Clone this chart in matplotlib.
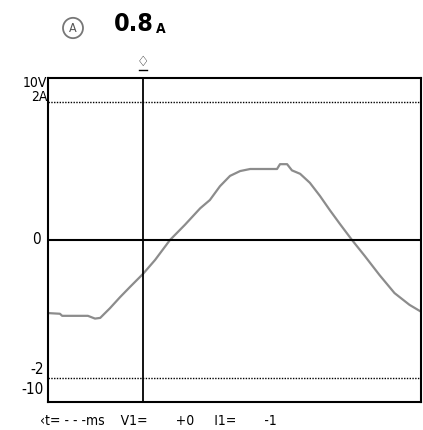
import matplotlib
matplotlib.use("Agg")
import matplotlib.pyplot as plt
from matplotlib.patches import Circle

# --- trace values (time in % of screen, current in A)
t_pct = [0, 3.2, 3.8, 7.2, 10.7, 12.6, 14.0, 16.6, 19.3, 22.0, 25.5, 28.7,
         32.7, 36.7, 40.8, 43.4, 46.1, 48.8, 51.5, 54.2, 61.4, 62.2, 64.1,
         65.4, 67.6, 70.2, 72.9, 75.6, 78.3, 81.5, 84.9, 88.9, 92.9, 96.9, 100]
amps = [-1.06, -1.07, -1.10, -1.10, -1.10, -1.14, -1.13, -0.99, -0.83, -0.68,
        -0.49, -0.29, 0.0, 0.22, 0.46, 0.58, 0.78, 0.93, 1.0, 1.03, 1.03,
        1.10, 1.10, 1.01, 0.96, 0.83, 0.64, 0.43, 0.23, 0.0, -0.23, -0.51,
        -0.77, -0.94, -1.04]

cursor_t = 25.5
grid_levels = [2, -2]
reading = "0.8"
footer = "\u2039t= - - -ms    V1=       +0     I1=       -1"

W, H = 423, 430
font = "DejaVu Sans"

def fx(px):
    return px / W

def fy(py):
    return 1 - py / H

def label(px, py, s, **kw):
    kw.setdefault("fontsize", 11)
    kw.setdefault("family", font)
    kw.setdefault("fontstretch", "condensed")
    fig.text(fx(px), fy(py), s, **kw)

fig = plt.figure(figsize=(W / 100, H / 100), dpi=100)
ax = fig.add_axes([fx(48), fy(402), fx(421) - fx(48), fy(78) - fy(402)])

ax.plot(t_pct, amps, color="#8c8c8c", lw=1.6)
ax.axhline(0, color="black", lw=1.5)
for g in grid_levels:
    ax.axhline(g, color="black", lw=1.0, ls=(0, (1, 1)))
ax.axvline(cursor_t, color="black", lw=1.3)

ax.set_xlim(0, 100)
ax.set_ylim(-2.35, 2.35)
ax.set_xticks([])
ax.set_yticks([])
for s in ax.spines.values():
    s.set_linewidth(1.5)

# axis scale labels
label(47, 83, "10V", ha="right", va="center", fontsize=10)
label(47, 97, "2A", ha="right", va="center", fontsize=10)
label(41, 240, "0", ha="right", va="center", fontsize=11)
label(44, 369, "-2", ha="right", va="center", fontsize=11)
label(44, 389, "-10", ha="right", va="center", fontsize=11)

# meter reading on top
fig.patches.append(Circle((fx(73), fy(28)), 10 / W, transform=fig.transFigure,
                          fill=False, ec="#777777", lw=1.3))
label(73, 28, "A", ha="center", va="center", fontsize=9, color="#555555")
label(114, 24, reading, ha="left", va="center", fontsize=18, fontweight="bold")
label(156, 29, "A", ha="left", va="center", fontsize=10, fontweight="bold")

# cursor marker above the plot
fig.text(fx(143), fy(62), "\u2662", ha="center", va="center", fontsize=10,
         family="DejaVu Sans", fontweight="bold")
fig.lines.append(plt.Line2D([fx(139), fx(147)], [fy(70), fy(70)],
                            transform=fig.transFigure, color="black", lw=1))

label(40, 421, footer, ha="left", va="center", fontsize=10)

fig.savefig("out.png", dpi=100)
